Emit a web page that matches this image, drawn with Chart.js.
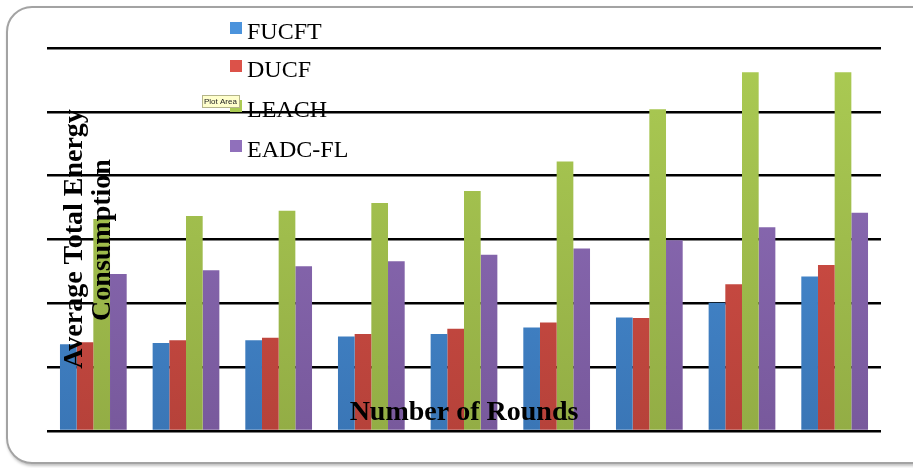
<!DOCTYPE html>
<html>
<head>
<meta charset="utf-8">
<script src="https://cdn.jsdelivr.net/npm/chart.js@4/dist/chart.umd.min.js"></script>
<style>
  html, body { margin: 0; padding: 0; background: #fff; overflow: hidden; }
  #wrap { position: relative; width: 913px; height: 468px; }
  #frame {
    position: absolute; left: 6px; top: 6px; width: 930px; height: 454px;
    border: 2px solid #a3a3a3; border-radius: 26px;
    box-shadow: 1px 2px 3px rgba(0,0,0,0.25);
  }
  canvas { position: absolute; left: 0; top: 0; }
</style>
</head>
<body>
<div id="wrap">
  <div id="frame"></div>
  <canvas id="chart" width="913" height="468"></canvas>
</div>
<script>
// rounds (no labels shown on the axis)
const rounds = ['1', '2', '3', '4', '5', '6', '7', '8', '9'];
const seriesNames = ['FUCFT', 'DUCF', 'LEACH', 'EADC-FL'];

// average total energy consumption, in grid units
const fucft = [1.36, 1.38, 1.42, 1.48, 1.52, 1.62, 1.78, 2.01, 2.42];
const ducf  = [1.39, 1.42, 1.46, 1.52, 1.60, 1.70, 1.77, 2.30, 2.60];
const leach = [3.32, 3.37, 3.45, 3.57, 3.76, 4.22, 5.04, 5.62, 5.62];
const eadc  = [2.46, 2.52, 2.58, 2.66, 2.76, 2.86, 2.99, 3.19, 3.42];

const yMax = 6;

// top / bottom colours of each bar gradient
const colors = [
    ['#4b93dc', '#3a76b6'],
    ['#dc5249', '#b6423a'],
    ['#abcb53', '#93ad45'],
    ['#9070bb', '#78599c']
];

function gradient(idx) {
    return function (context) {
        const area = context.chart.chartArea;
        if (!area) return colors[idx][0];
        const g = context.chart.ctx.createLinearGradient(0, area.top, 0, area.bottom);
        g.addColorStop(0, colors[idx][0]);
        g.addColorStop(1, colors[idx][1]);
        return g;
    };
}

// legend, axis titles and the little tooltip, drawn over the plot
const overlay = {
    id: 'overlay',
    afterDraw(chart) {
        const ctx = chart.ctx;
        ctx.save();

        // legend
        ctx.font = '24px "Liberation Serif", "Times New Roman", serif';
        ctx.textBaseline = 'middle';
        ctx.textAlign = 'left';
        const legendY = [32, 70, 110, 150];
        seriesNames.forEach((name, i) => {
            ctx.fillStyle = colors[i][0];
            ctx.fillRect(230, legendY[i] - 10, 12, 12);
            ctx.fillStyle = '#000';
            ctx.fillText(name, 247, legendY[i] + 1);
        });

        // "Plot Area" tooltip
        ctx.fillStyle = '#ffffcc';
        ctx.fillRect(202, 95, 38, 13);
        ctx.strokeStyle = '#b5b58a';
        ctx.lineWidth = 1;
        ctx.strokeRect(202.5, 95.5, 37, 12);
        ctx.fillStyle = '#222';
        ctx.font = '8px "Liberation Sans", Arial, sans-serif';
        ctx.fillText('Plot Area', 204, 102);

        // y axis title (two lines, rotated)
        ctx.fillStyle = '#000';
        ctx.font = 'bold 28px "Liberation Serif", "Times New Roman", serif';
        ctx.textAlign = 'center';
        ctx.textBaseline = 'alphabetic';
        ctx.save();
        ctx.translate(82, 239);
        ctx.rotate(-Math.PI / 2);
        ctx.fillText('Average Total Energy', 0, 0);
        ctx.restore();
        ctx.save();
        ctx.translate(110, 240);
        ctx.rotate(-Math.PI / 2);
        ctx.fillText('Consumption', 0, 0);
        ctx.restore();

        // x axis title
        ctx.fillText('Number of Rounds', 464, 420);

        ctx.restore();
    }
};

const data = [fucft, ducf, leach, eadc];

new Chart(document.getElementById('chart'), {
    type: 'bar',
    data: {
        labels: rounds,
        datasets: seriesNames.map((name, i) => ({
            label: name,
            data: data[i],
            backgroundColor: gradient(i),
            borderWidth: 0,
            categoryPercentage: 0.72,
            barPercentage: 1.0
        }))
    },
    options: {
        responsive: false,
        animation: false,
        layout: { padding: { left: 47, right: 32, top: 48, bottom: 37 } },
        plugins: {
            legend: { display: false },
            tooltip: { enabled: false }
        },
        scales: {
            x: {
                grid: { display: false, drawTicks: false },
                border: { display: false },
                ticks: { display: false }
            },
            y: {
                min: 0,
                max: yMax,
                ticks: { display: false, stepSize: 1 },
                grid: { color: '#000', lineWidth: 2.5, drawTicks: false },
                border: { display: false }
            }
        }
    },
    plugins: [overlay]
});
</script>
</body>
</html>
